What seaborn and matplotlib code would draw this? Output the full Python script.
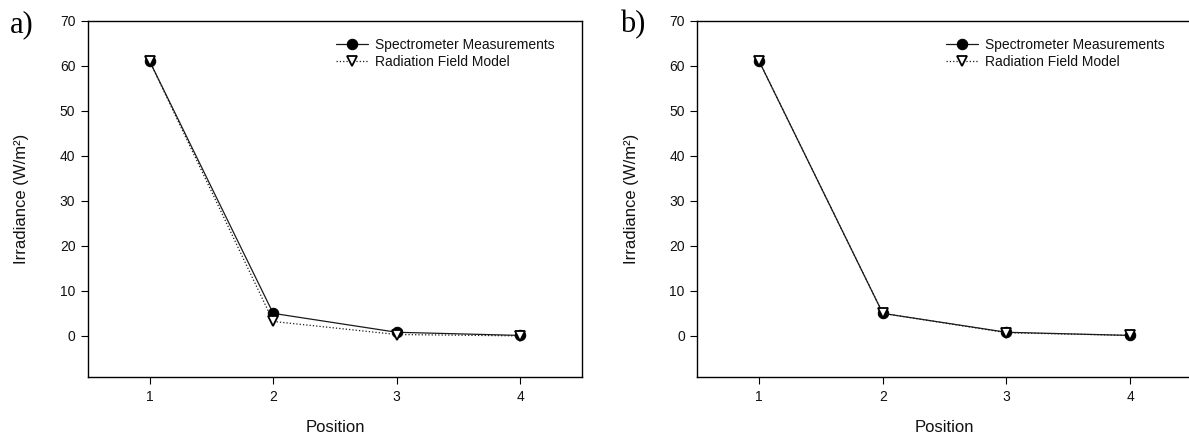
import matplotlib
matplotlib.use("Agg")
import matplotlib.pyplot as plt
import seaborn as sns
import pandas as pd

positions = [1, 2, 3, 4]
spectro_a = [61.0, 5.0, 0.8, 0.1]
model_a = [61.0, 3.2, 0.3, 0.0]
spectro_b = [61.0, 5.0, 0.8, 0.1]
model_b = [61.0, 5.0, 0.7, 0.1]
panel_labels = ["a)", "b)"]
series_names = ["Spectrometer Measurements", "Radiation Field Model"]
yticks = [0, 10, 20, 30, 40, 50, 60, 70]

sns.set_theme(style="white")
plt.rcParams["font.family"] = ["Liberation Sans", "DejaVu Sans"]

fig = plt.figure(figsize=(11.89, 4.37), dpi=100)
W, H = 1189, 437
axes_px = [(87.9, 582.0), (697.3, 1192.0)]
top_px, bot_px = 20.7, 377.3

datasets = [(spectro_a, model_a), (spectro_b, model_b)]
label_x = [10, 620]

for i, ((l, r), (sp, md)) in enumerate(zip(axes_px, datasets)):
    ax = fig.add_axes([l / W, 1 - bot_px / H, (r - l) / W, (bot_px - top_px) / H])
    df_s = pd.DataFrame({"Position": positions, "Irr": sp})
    df_m = pd.DataFrame({"Position": positions, "Irr": md})
    sns.lineplot(data=df_s, x="Position", y="Irr", ax=ax, color="#1a1a1a",
                 linewidth=0.9, marker="o", markersize=7.5,
                 markerfacecolor="black", markeredgecolor="black",
                 label=series_names[0], zorder=3)
    sns.lineplot(data=df_m, x="Position", y="Irr", ax=ax, color="#1a1a1a",
                 linewidth=0.9, linestyle=":", marker="v", markersize=6.5,
                 markerfacecolor="white", markeredgecolor="black",
                 markeredgewidth=1.3, label=series_names[1], zorder=4)
    ax.set_xlim(0.5, 4.5)
    ax.set_ylim(-9.2, 70)
    ax.set_xticks(positions)
    ax.set_yticks(yticks)
    ax.tick_params(axis="both", which="major", direction="out", length=5,
                   width=0.8, color="black", labelsize=10, pad=4,
                   left=True, bottom=True, labelcolor="#111111")
    for s in ax.spines.values():
        s.set_color("black")
        s.set_linewidth(1.0)
    ax.set_xlabel("Position", fontsize=12, labelpad=12, color="#111111")
    ax.set_ylabel("Irradiance (W/m²)", fontsize=12, labelpad=22, color="#111111")
    leg = ax.legend(loc="upper right", bbox_to_anchor=(0.962, 0.975),
                    frameon=False, fontsize=10, handlelength=2.3,
                    handletextpad=0.55, labelspacing=0.2, borderaxespad=0.2)
    for t in leg.get_texts():
        t.set_color("#111111")
    fig.text(label_x[i] / W, 1 - 32 / H, panel_labels[i], fontsize=22,
             family=["Liberation Serif", "DejaVu Serif"], va="baseline",
             ha="left", color="black")

fig.savefig("out.png", dpi=100)
